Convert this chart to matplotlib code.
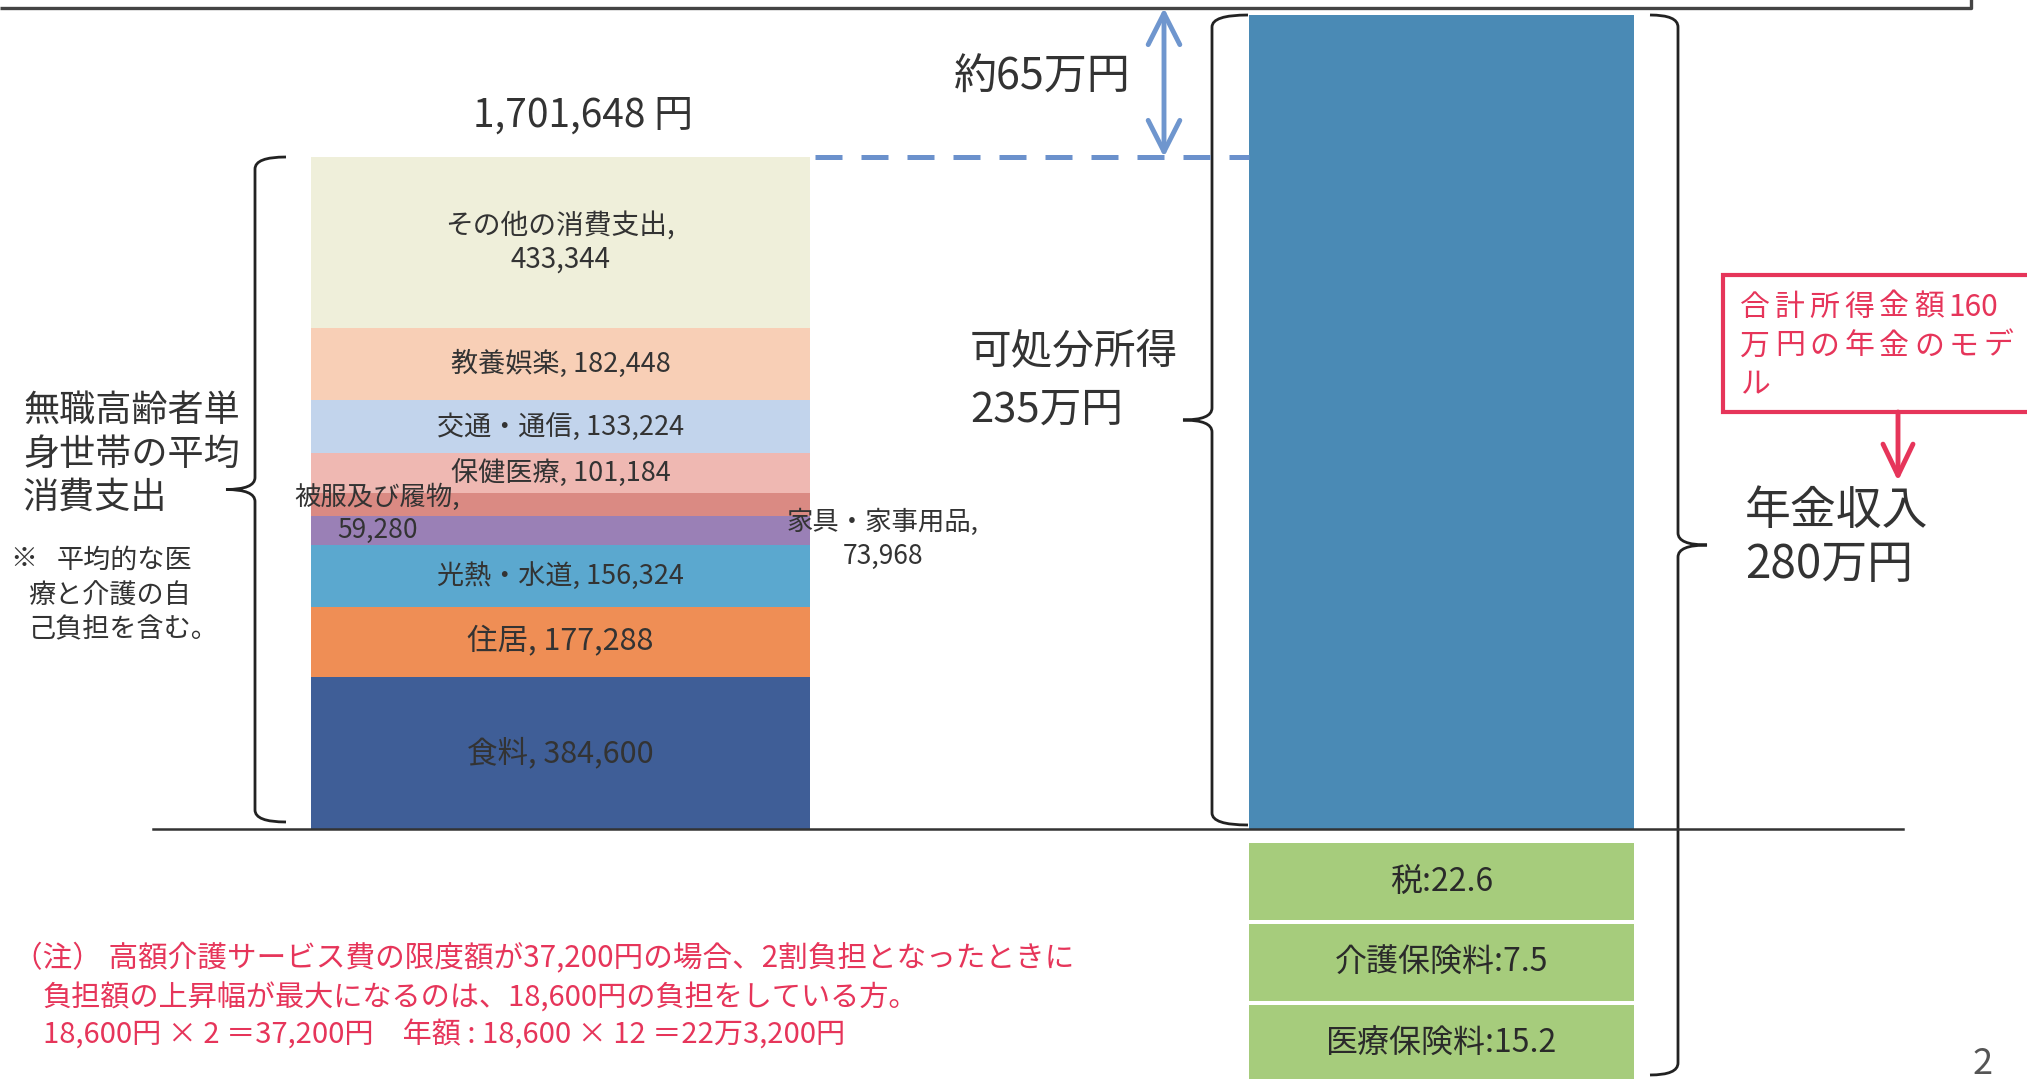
import numpy as np
import matplotlib
matplotlib.use("Agg")
import matplotlib.pyplot as plt
from matplotlib.path import Path
from matplotlib.patches import PathPatch, Rectangle

plt.rcParams['font.family'] = ['Noto Sans CJK JP', 'DejaVu Sans']

# 無職高齢者単身世帯の平均消費支出 (円), stacked from the bottom up
exp_labels = ['食料', '住居', '光熱・水道', '家具・家事用品', '被服及び履物',
              '保健医療', '交通・通信', '教養娯楽', 'その他の消費支出']
exp_values = [384600, 177288, 156324, 73968, 59280, 101184, 133224, 182448, 433344]
exp_total = 1701648

# 年金収入と控除 (万円)
pension = 280
ded_labels = ['税', '介護保険料', '医療保険料']
ded_values = [22.6, 7.5, 15.2]

exp_colors = ['#3F5E97', '#EF8E55', '#5BA8CF', '#9A80B6', '#DA8A83',
              '#EFB8B2', '#C2D4EC', '#F8CFB6', '#EFEFDA']
INC_COLOR = '#4A8AB5'
DED_COLOR = '#A6CC7C'
RED = '#E6355A'
DARK = '#333333'

W, H = 2027, 1079
fig = plt.figure(figsize=(W / 100, H / 100), dpi=100)
fig.patch.set_facecolor('white')


def box(x0, y0, x1, y1):
    # pixel box (origin top-left) -> figure fraction
    return [x0 / W, 1 - y1 / H, (x1 - x0) / W, (y1 - y0) / H]


BASE = 829
ax_exp = fig.add_axes(box(311, 157, 810, BASE))
ax_inc = fig.add_axes(box(1249, 15, 1634, BASE))
ax_ded = fig.add_axes(box(1249, 841, 1634, 841 + 81 * 3))
ov = fig.add_axes([0, 0, 1, 1])
ov.set_xlim(0, W)
ov.set_ylim(H, 0)
ov.axis('off')
ov.patch.set_visible(False)

# --- expenditure stacked bar
bottoms = np.concatenate([[0], np.cumsum(exp_values)[:-1]])
ax_exp.bar(np.zeros(len(exp_values)), exp_values, bottom=bottoms, width=1.0,
           color=exp_colors, linewidth=0)
ax_exp.set_xlim(-0.5, 0.5)
ax_exp.set_ylim(0, sum(exp_values))
ax_exp.axis('off')

# --- disposable income bar
disposable = pension - sum(ded_values)
ax_inc.bar(0, disposable, width=1.0, color=INC_COLOR, linewidth=0)
ax_inc.set_xlim(-0.5, 0.5)
ax_inc.set_ylim(0, disposable)
ax_inc.axis('off')

# --- deductions (boxes)
ypos = np.arange(len(ded_values))
ax_ded.barh(ypos, [1] * len(ded_values), height=0.94, color=DED_COLOR, linewidth=0)
ax_ded.set_xlim(0, 1)
ax_ded.set_ylim(len(ded_values) - 0.5, -0.5)
ax_ded.axis('off')
for i, (lab, v) in enumerate(zip(ded_labels, ded_values)):
    ax_ded.text(0.5, i, f'{lab}:{v}', ha='center', va='center', fontsize=23, color='#2a2a2a')


def px(ax, x, y):
    return ov.transData.inverted().transform(ax.transData.transform((x, y)))


def lines(x, y0, texts, gap, **kw):
    for k, t in enumerate(texts):
        ov.text(x, y0 + k * gap, t, va='center', **kw)


def brace(x, y0, y1, d, hook=30, tip=29, r=12):
    ym = (y0 + y1) / 2
    verts = [(x - d * hook, y0), (x, y0), (x, y0 + r),
             (x, ym - r), (x, ym), (x + d * tip, ym),
             (x, ym), (x, ym + r),
             (x, y1 - r), (x, y1), (x - d * hook, y1)]
    codes = [Path.MOVETO, Path.CURVE3, Path.CURVE3, Path.LINETO, Path.CURVE3, Path.CURVE3,
             Path.CURVE3, Path.CURVE3, Path.LINETO, Path.CURVE3, Path.CURVE3]
    ov.add_patch(PathPatch(Path(verts, codes), fill=False, lw=2.0, ec='#222222'))


# bar segment labels
mids = bottoms + np.array(exp_values) / 2
for lab, v, m in zip(exp_labels, exp_values, mids):
    cx, cy = px(ax_exp, 0, m)
    if lab == 'その他の消費支出':
        lines(cx, cy - 16, [f'{lab},', f'{v:,}'], 33, ha='center', fontsize=20, color=DARK)
    elif lab == '被服及び履物':
        lines(377, cy - 7, [f'{lab},', f'{v:,}'], 33, ha='center', fontsize=19, color=DARK)
    elif lab == '家具・家事用品':
        lines(883, cy - 8, [f'{lab},', f'{v:,}'], 34, ha='center', fontsize=19, color=DARK)
    else:
        size = 22 if lab in ('住居', '食料') else 19.5
        ov.text(cx, cy, f'{lab}, {v:,}', ha='center', va='center', fontsize=size, color=DARK)

x_l, y_top = px(ax_exp, -0.5, sum(exp_values))
x_r, y_base = px(ax_exp, 0.5, 0)
x_inc_l, y_inc_top = px(ax_inc, -0.5, disposable)

ov.text(583, 116, f'{exp_total:,} 円', ha='center', va='center', fontsize=28, color=DARK)

# frame line at top and baseline
ov.plot([0, 1971, 1971], [8, 8, -5], color='#444444', lw=2.4, solid_capstyle='butt')
ov.plot([153, 1903], [y_base, y_base], color=DARK, lw=1.8)

# dashed level line and gap arrow
ov.plot([x_r + 5, x_inc_l], [y_top, y_top], color='#6B91CC', lw=3.6, ls=(0, (5.4, 3.8)))
ov.annotate('', xy=(1164, 8), xytext=(1164, y_top),
            arrowprops=dict(arrowstyle='<->,head_length=0.75,head_width=0.38',
                            color='#6F96CE', lw=3.5, shrinkA=0, shrinkB=0, mutation_scale=30))
gap_man = round((disposable * 1e4 - exp_total) / 1e4)
ov.text(1042, 78, f'約{gap_man}万円', ha='center', va='center', fontsize=31, color=DARK)

# braces
brace(255, y_top, y_base - 7, -1, hook=31)
brace(1212, y_inc_top, y_base - 4, -1, hook=36)
brace(1678, y_inc_top, 1075, 1, hook=28)

# left side text
lines(23, 411, ['無職高齢者単', '身世帯の平均', '消費支出'], 43.5, ha='left', fontsize=26, color=DARK)
ov.text(10, 560, '※', ha='left', va='center', fontsize=19.5, color=DARK)
lines(57, 560, ['平均的な医'], 0, ha='left', fontsize=19.5, color=DARK)
lines(28, 596, ['療と介護の自', '己負担を含む。'], 34, ha='left', fontsize=19.5, color=DARK)

# disposable income / pension text
lines(970, 353, ['可処分所得', f'{round(disposable)}万円'], 57, ha='left', fontsize=30, color=DARK)
lines(1745, 511, ['年金収入', f'{pension}万円'], 54, ha='left', fontsize=33, color=DARK)

# red model box
ov.add_patch(Rectangle((1723, 275), 340, 137, fill=True, fc='white', ec=RED, lw=3.0))
model_lines = [['合', '計', '所', '得', '金', '額', '160'],
               ['万', '円', 'の', '年', '金', 'の', 'モ', 'デ'],
               ['ル']]
for k, toks in enumerate(model_lines):
    for i, t in enumerate(toks):
        ov.text(1740 + i * 34.8, 307 + k * 39, t, ha='left', va='center', fontsize=21.5,
                color=RED)
ov.annotate('', xy=(1898, 481), xytext=(1898, 412),
            arrowprops=dict(arrowstyle='->,head_length=0.75,head_width=0.36',
                            color=RED, lw=3.5, shrinkA=0, shrinkB=0, mutation_scale=30))

# note
ov.text(13, 959, '（注） 高額介護サービス費の限度額が37,200円の場合、2割負担となったときに',
        ha='left', va='center', fontsize=21.3, color=RED)
lines(43, 999, ['負担額の上昇幅が最大になるのは、18,600円の負担をしている方。',
                '18,600円 × 2 ＝37,200円　年額 : 18,600 × 12 ＝22万3,200円'], 37,
      ha='left', fontsize=21, color=RED)

ov.text(1983, 1046, '2', ha='center', va='top', fontsize=26, color='#555555')

fig.savefig('out.png', dpi=100, facecolor='white')
